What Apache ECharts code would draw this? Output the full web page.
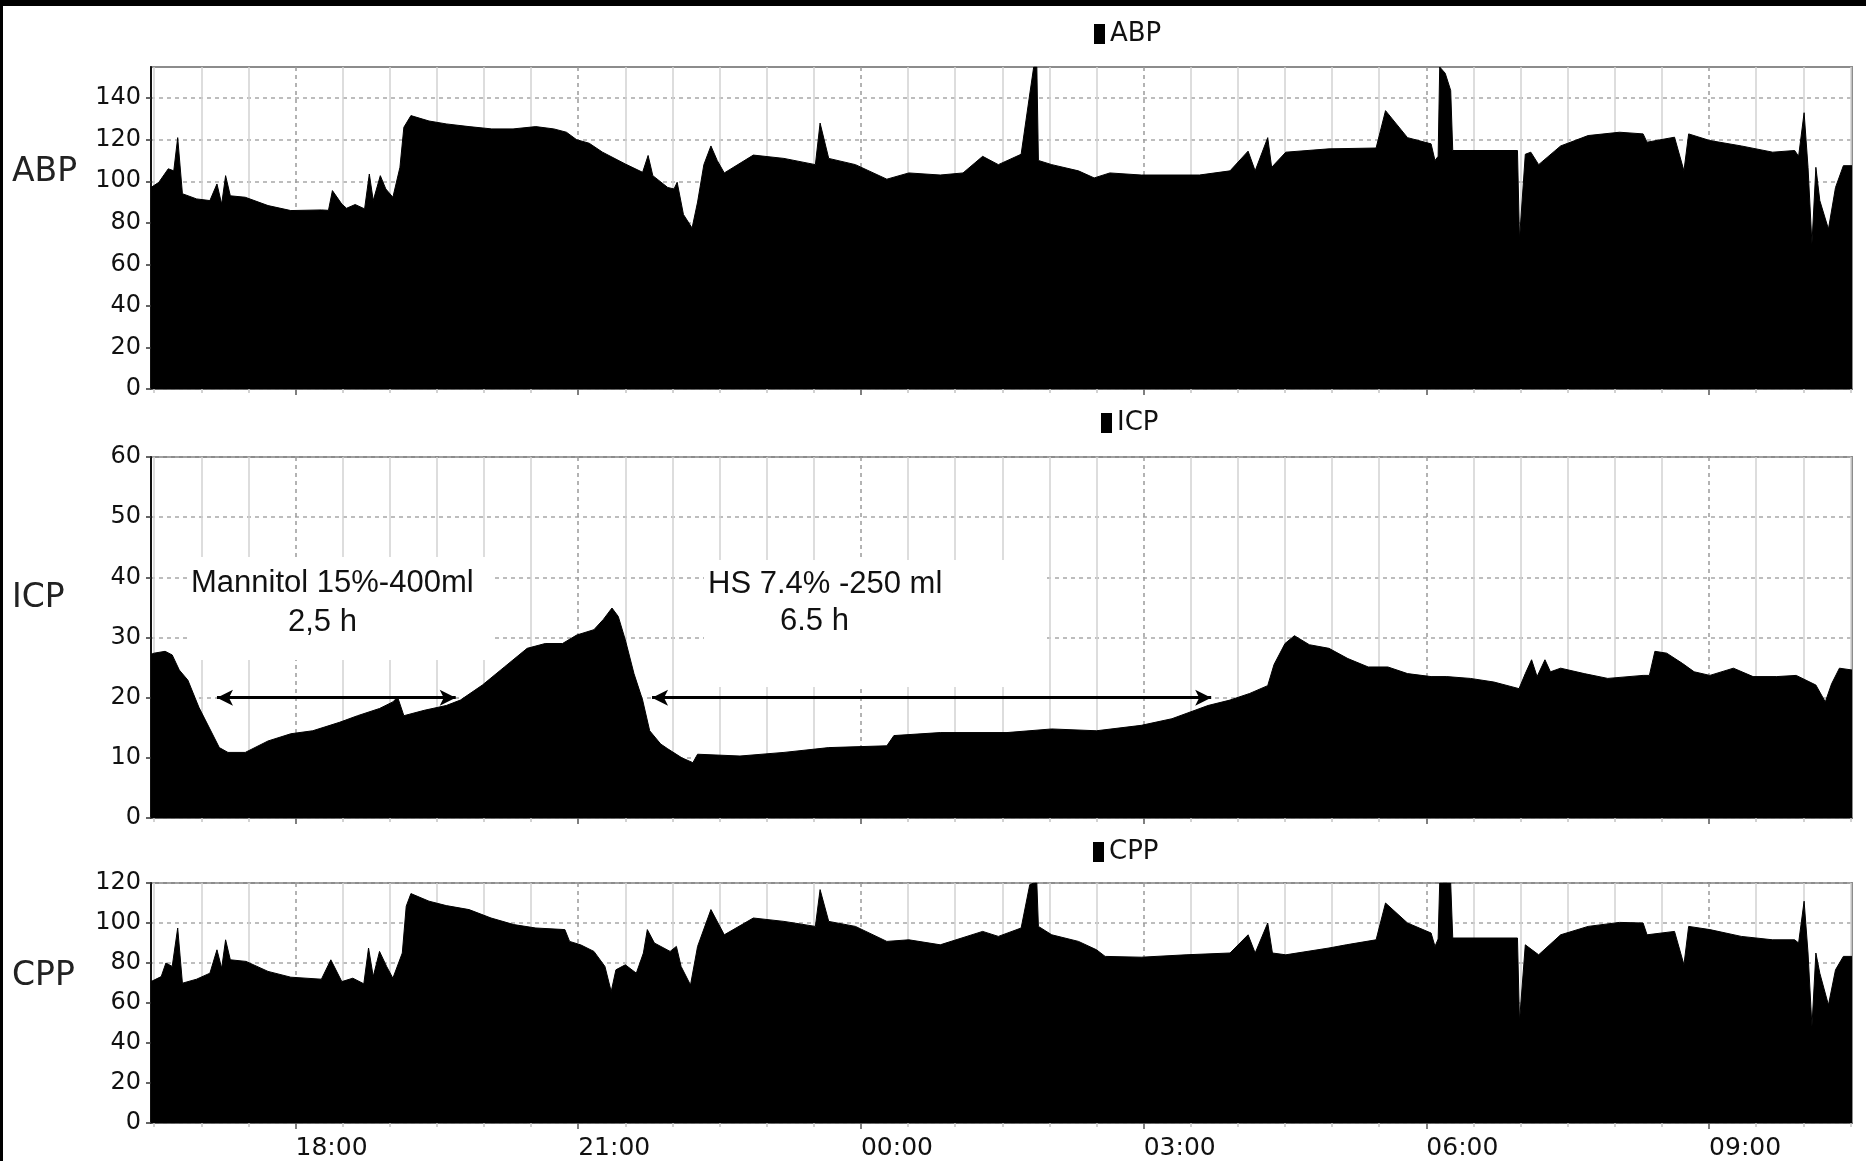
<!DOCTYPE html>
<html>
<head>
<meta charset="utf-8">
<title>ABP / ICP / CPP</title>
<script src="https://cdn.jsdelivr.net/npm/echarts@6.0.0/dist/echarts.min.js"></script>
<style>
  html, body { margin: 0; padding: 0; background: #fff; }
  #chart { position: absolute; left: 0; top: 0; width: 1866px; height: 1161px; }
  .edge { position: absolute; background: #000; }
</style>
</head>
<body>
<div id="chart"></div>
<div class="edge" style="left:0;top:0;width:1866px;height:6px"></div>
<div class="edge" style="left:0;top:0;width:3px;height:1161px"></div>
<script>
// x = minutes after 16:00
const majorTicks = [120, 300, 480, 660, 840, 1020]
const timeLabels = ['18:00', '21:00', '00:00', '03:00', '06:00', '09:00']
const abpTicks = [0, 20, 40, 60, 80, 100, 120, 140]
const icpTicks = [0, 10, 20, 30, 40, 50, 60]
const cppTicks = [0, 20, 40, 60, 80, 100, 120]

// [minute, mmHg]
const abpPoints = [
  [28, 97], [33, 99.5], [39, 106], [42.5, 105], [45, 121], [48, 94], [57, 91.5], [65.5, 90.7],
  [70, 98.7], [73, 89], [75.5, 102.7], [78.5, 93], [88, 92.3], [102.5, 88.3], [117, 85.9],
  [136.5, 86.2], [141, 86], [143.5, 95.5], [149.5, 89], [152.5, 87], [158, 88.8], [164, 86.7],
  [167, 103.5], [169.5, 90.7], [174, 102.7], [177.5, 96.3], [182, 92.3], [186.5, 106.7],
  [189, 126], [193.5, 131.6], [205, 129], [216, 127.6], [230.5, 126.3], [245, 125.2],
  [258.5, 125.2], [273, 126.3], [284.5, 125.2], [292.5, 123.6], [299, 120], [307, 118.3],
  [315.5, 114], [330, 108.3], [341, 104.3], [344.5, 112.4], [347.5, 102.7], [357, 97],
  [361, 96.3], [363, 99.5], [367, 84], [372.5, 77.5], [376, 90], [380, 108], [384.5, 117],
  [388.5, 110], [393, 104], [411.5, 112.6], [431, 111], [451, 108], [454, 128], [459.5, 111],
  [476.5, 108], [496.5, 101], [510.5, 104], [530.5, 103], [545, 104], [557.5, 112], [567.5, 108],
  [582, 113], [587.5, 142], [590, 155], [592, 155], [593, 110], [601.5, 108], [618.5, 105],
  [628.5, 101.6], [638.5, 104], [658.5, 103], [695.5, 103], [715, 105], [726.5, 114.5],
  [731, 105], [739, 121], [741.5, 106.7], [750.5, 114], [778, 115.6], [808, 116], [814, 134],
  [828, 121], [843, 118], [845.5, 110], [847.5, 112], [848.5, 155], [852, 152], [855.5, 143.7],
  [856.8, 114.8], [898, 114.8], [899.3, 72], [903, 113], [906.5, 114], [911.5, 108],
  [925.5, 117], [943, 122], [963, 123.6], [978, 122.8], [980.5, 118.8], [998, 121.2],
  [1004, 105], [1007, 122.8], [1020.5, 119.6], [1040.5, 117], [1060.5, 114], [1074.5, 114.8],
  [1077, 112], [1080.5, 133], [1083, 106.7], [1085.5, 69.8], [1088, 106.7], [1090.5, 90.7],
  [1096, 77], [1100.5, 97], [1105.5, 107.5], [1111, 107.5]
]

const icpPoints = [
  [28, 27.2], [30, 27.4], [37, 27.7], [41.5, 27.1], [46, 24.6], [51.5, 22.9], [58.5, 18.4],
  [65.5, 14.8], [71.5, 11.7], [77, 10.9], [88, 10.9], [102.5, 12.8], [117, 14], [131, 14.5],
  [148, 15.9], [159.5, 17], [173.5, 18.2], [182, 19.3], [185, 20.1], [189, 17], [202, 17.9],
  [216, 18.7], [225, 19.6], [239, 22.1], [253, 25.1], [267.5, 28.2], [279, 29], [290, 29],
  [299, 30.4], [310, 31.3], [316, 33], [321.5, 34.9], [325.5, 33.5], [330, 29.6], [335.5, 24],
  [341, 19.6], [345.5, 14.5], [352.5, 12.3], [357, 11.5], [366, 10], [373, 9.2], [376, 10.6],
  [403, 10.3], [431, 10.9], [459.5, 11.7], [496.5, 12], [501, 13.7], [530.5, 14.2], [573, 14.2],
  [601.5, 14.8], [630, 14.5], [658.5, 15.4], [678, 16.5], [701, 18.7], [715, 19.6], [727.5, 20.7],
  [739, 22], [743, 25.5], [750, 29], [756, 30.3], [765.5, 28.8], [778, 28.2], [790, 26.5],
  [803, 25.1], [815.5, 25.1], [828, 24], [843, 23.5], [853, 23.5], [868, 23.2], [883, 22.6],
  [899, 21.5], [903, 24], [907, 26.3], [910.5, 23.5], [915.5, 26.3], [919, 24.3], [925.5, 24.9],
  [940.5, 24], [955.5, 23.2], [978, 23.7], [982, 23.7], [985.5, 27.7], [993, 27.4], [1003, 25.7],
  [1010.5, 24.3], [1020.5, 23.7], [1035.5, 24.9], [1048, 23.5], [1063, 23.5], [1075.5, 23.7],
  [1088, 22.1], [1094, 19.3], [1098, 22.3], [1103, 24.9], [1111, 24.6]
]

const cppPoints = [
  [28, 70.7], [34.5, 73.2], [37.5, 80], [41.5, 78.3], [45, 97.5], [48, 69.9], [57, 71.9],
  [65.5, 74.9], [70, 86.6], [73, 77.4], [75.5, 91.6], [78.5, 81.6], [88.5, 80.8], [102.5, 75.8],
  [117, 72.9], [136.5, 71.9], [142.5, 81.6], [149.5, 70.7], [156.5, 72.4], [163.5, 69.6],
  [166.5, 87.5], [169.5, 73.2], [173.5, 85.8], [178, 78.3], [182, 72.4], [188, 85],
  [190.5, 108.4], [193.5, 114.7], [205, 110.9], [216, 108.7], [230.5, 106.7], [244.5, 102.5],
  [259, 99.2], [273, 97.5], [291.5, 96.7], [294.5, 90.8], [301.5, 89.1], [310, 85.8],
  [317, 78.3], [321, 65.7], [324, 76.6], [330, 79.1], [337, 74.9], [341.5, 85], [344, 96.7],
  [348.5, 90], [358.5, 85.8], [362.5, 88.3], [365.5, 78.3], [371.5, 69], [376, 88.3],
  [384.5, 106.7], [393, 94.1], [411.5, 102.5], [431, 100.8], [451, 98.3], [454, 116.7],
  [459.5, 100.8], [476.5, 98.3], [496.5, 90.8], [510.5, 91.6], [530.5, 89.1], [557.5, 95.8],
  [567.5, 93.3], [582, 97.5], [587.5, 119.2], [590, 120], [592, 120], [593, 98.3], [601.5, 94.1],
  [618.5, 90.8], [630, 86.6], [635.5, 83.3], [658.5, 82.9], [687, 84.1], [715, 85], [726.5, 94.1],
  [731, 85], [739, 100], [742, 85], [750.5, 84.1], [778, 87.5], [789, 89.1], [808, 91.6],
  [814, 110], [828, 100], [843, 95], [845.5, 88.3], [847.5, 92], [848.5, 120], [855.5, 120],
  [856.8, 92.5], [898, 92.5], [899.3, 50.7], [903, 89.1], [911.5, 84.1], [925.5, 94.1],
  [943, 98.3], [963, 100.3], [978, 100], [980.5, 94.1], [998, 95.8], [1004, 79.1], [1007, 98.3],
  [1020.5, 96.7], [1040.5, 93.3], [1060.5, 91.6], [1074.5, 91.6], [1077, 90], [1080.5, 110.9],
  [1083, 85], [1085.5, 48.2], [1088, 85], [1090.5, 74.9], [1096, 59], [1100.5, 76.6],
  [1105.5, 83.3], [1111, 83.3]
]

// osmotherapy periods, drawn as arrows on the ICP panel: [start, end, mmHg]
const mannitolSpan = [70, 222, 20]
const hsSpan = [347, 703, 20]

const X_MIN = 28
const X_MAX = 1111
const minorTicks = []
for (let t = 30; t <= X_MAX; t += 30) {
  if ((t - 120) % 180 !== 0) minorTicks.push(t)
}

const numFont = 'DejaVu Sans'

const panels = [
  {name: 'ABP', top: 67, height: 322, max: 155, ticks: abpTicks, data: abpPoints, legendLeft: 1094, legendTop: 21, labelY: 172},
  {name: 'ICP', top: 457, height: 361, max: 60, ticks: icpTicks, data: icpPoints, legendLeft: 1101, legendTop: 410, labelY: 598},
  {name: 'CPP', top: 883, height: 240, max: 120, ticks: cppTicks, data: cppPoints, legendLeft: 1093, legendTop: 839, labelY: 976}
]

const xAxes = []
panels.forEach((p, i) => {
  // 30 min grid
  xAxes.push({
    type: 'value', gridIndex: i, min: X_MIN, max: X_MAX, position: 'bottom',
    axisLine: {show: false, onZero: false},
    axisTick: {show: true, customValues: minorTicks, length: 4, lineStyle: {color: '#c4c4c4', width: 1.5}},
    axisLabel: {show: false},
    splitLine: {show: true, lineStyle: {color: '#d2d2d2', width: 1.5, type: 'solid'}}
  })
  // 3 h grid + labels
  xAxes.push({
    type: 'value', gridIndex: i, min: X_MIN, max: X_MAX, position: 'bottom',
    axisLine: {show: true, onZero: false, lineStyle: {color: '#555', width: 1.5}},
    axisTick: {show: true, customValues: majorTicks, length: 6, lineStyle: {color: '#555', width: 1.5}},
    axisLabel: {
      show: i === 2, customValues: majorTicks, align: 'left', margin: 13,
      fontFamily: numFont, fontSize: 25, color: '#111',
      formatter: v => timeLabels[majorTicks.indexOf(v)]
    },
    splitLine: {show: true, lineStyle: {color: '#9a9a9a', width: 1.5, type: [4, 4]}}
  })
})

const option = {
  backgroundColor: '#fff',
  animation: false,
  grid: panels.map(p => ({
    left: 151, width: 1701, top: p.top, height: p.height,
    show: true, borderColor: '#8c8c8c', borderWidth: 2, backgroundColor: '#fff',
    outerBoundsMode: 'none'
  })),
  legend: panels.map(p => ({
    data: [p.name], left: p.legendLeft, top: p.legendTop, padding: 0,
    icon: 'rect', itemWidth: 11, itemHeight: 20, selectedMode: false,
    textStyle: {fontFamily: numFont, fontSize: 26, color: '#111'}
  })),
  xAxis: xAxes,
  yAxis: panels.map((p, i) => ({
    type: 'value', gridIndex: i, min: 0, max: p.max,
    axisLine: {show: true, lineStyle: {color: '#111', width: 2}},
    axisTick: {show: true, customValues: p.ticks, length: 5, lineStyle: {color: '#333', width: 1.5}},
    axisLabel: {customValues: p.ticks, margin: 10, fontFamily: numFont, fontSize: 24, color: '#111'},
    splitLine: {show: true, lineStyle: {color: '#a8a8a8', width: 1.5, type: [4, 4]}}
  })),
  series: panels.map((p, i) => {
    const s = {
      name: p.name, type: 'line', xAxisIndex: i * 2 + 1, yAxisIndex: i,
      data: p.data, showSymbol: false, symbol: 'none', color: '#000',
      lineStyle: {color: '#000', width: 1}, areaStyle: {color: '#000', opacity: 1}
    }
    if (p.name === 'ICP') {
      s.markLine = {
        silent: true, symbol: ['arrow', 'arrow'], symbolSize: [12, 16],
        label: {show: false},
        lineStyle: {color: '#000', width: 3, type: 'solid'},
        data: [mannitolSpan, hsSpan].map(a => [{coord: [a[0], a[2]]}, {coord: [a[1], a[2]]}])
      }
    }
    return s
  }),
  graphic: [
    // white boxes behind the annotations
    {type: 'rect', z: 1, shape: {x: 187, y: 557, width: 308, height: 103}, style: {fill: '#fff'}},
    {type: 'rect', z: 1, shape: {x: 704, y: 560, width: 339, height: 127}, style: {fill: '#fff'}},
    {type: 'text', z: 5, x: 191, y: 583, style: {text: 'Mannitol 15%-400ml', font: '31px "Liberation Sans"', fill: '#111', textVerticalAlign: 'middle'}},
    {type: 'text', z: 5, x: 288, y: 622, style: {text: '2,5 h', font: '31px "Liberation Sans"', fill: '#111', textVerticalAlign: 'middle'}},
    {type: 'text', z: 5, x: 708, y: 584, style: {text: 'HS 7.4% -250 ml', font: '31px "Liberation Sans"', fill: '#111', textVerticalAlign: 'middle'}},
    {type: 'text', z: 5, x: 780, y: 621, style: {text: '6.5 h', font: '31px "Liberation Sans"', fill: '#111', textVerticalAlign: 'middle'}}
  ].concat(panels.map(p => ({
    type: 'text', z: 5, x: 12, y: p.labelY,
    style: {text: p.name, font: '33px "DejaVu Sans"', fill: '#222', textVerticalAlign: 'middle'}
  })))
}

const chart = echarts.init(document.getElementById('chart'))
chart.setOption(option)
</script>
</body>
</html>
